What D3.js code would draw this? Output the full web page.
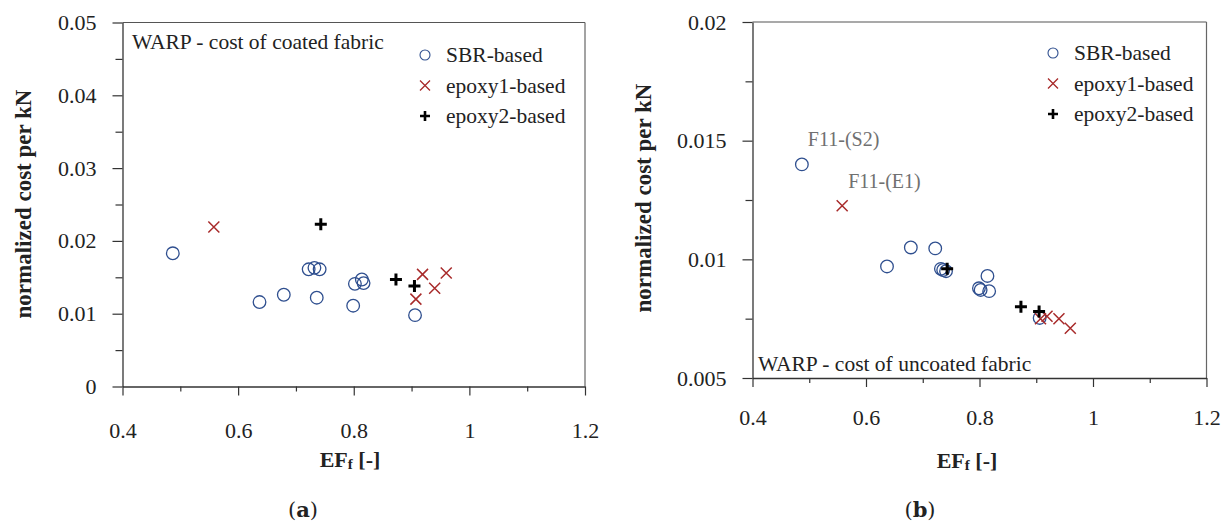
<!DOCTYPE html>
<html>
<head>
<meta charset="utf-8">
<script src="https://cdn.jsdelivr.net/npm/d3@7"></script>
<style>
  html, body { margin: 0; padding: 0; background: #fff; }
  svg text { font-family: "Liberation Serif", "Times New Roman", serif; }
</style>
</head>
<body>
<svg id="chart" width="1228" height="522"></svg>
<script>
// ---- data ----
const sbrEF        = [0.487, 0.637, 0.679, 0.722, 0.732, 0.741, 0.736, 0.799, 0.802, 0.814, 0.817, 0.906];
const sbrCoated    = [0.0183, 0.0116, 0.0126, 0.0161, 0.0163, 0.0161, 0.0122, 0.0111, 0.0141, 0.0147, 0.0142, 0.0098];
const sbrUncoated  = [0.0140, 0.0097, 0.0105, 0.01046, 0.0096, 0.0095, 0.00955, 0.00878, 0.00871, 0.0093, 0.00866, 0.00753];

const ep1EF        = [0.558, 0.9075, 0.919, 0.940, 0.960];
const ep1Coated    = [0.0219, 0.0120, 0.0154, 0.0135, 0.0156];
const ep1Uncoated  = [0.01226, 0.0075, 0.0076, 0.0075, 0.0071];

const ep2EF        = [0.743, 0.873, 0.905];
const ep2Coated    = [0.0223, 0.0147, 0.0138];
const ep2Uncoated  = [0.0096, 0.0080, 0.0078];

const xTicks       = [0.4, 0.6, 0.8, 1.0, 1.2];
const xMinor       = [0.5, 0.7, 0.9, 1.1];
const yTicksA      = [0, 0.01, 0.02, 0.03, 0.04, 0.05];
const yMinorA      = [0.005, 0.015, 0.025, 0.035, 0.045];
const yTicksB      = [0.005, 0.01, 0.015, 0.02];
const yMinorB      = [0.0075, 0.0125, 0.0175];
const seriesNames  = ["SBR-based", "epoxy1-based", "epoxy2-based"];
const annotations  = [{ label: "F11-(S2)", series: 0, index: 0 }, { label: "F11-(E1)", series: 1, index: 0 }];

const COL_SBR = "#2f4f8f", COL_EP1 = "#a82a2a", COL_EP2 = "#000";

const svg = d3.select("#chart");

function fmt(v) { return String(+v.toFixed(4)).replace(/^0\.0+$/, "0"); }

function panel(cfg) {
  const g = svg.append("g");
  const x = d3.scaleLinear().domain([0.4, 1.2]).range([cfg.left, cfg.right]);
  const y = d3.scaleLinear().domain(cfg.yDomain).range([cfg.bottom, cfg.top]);

  // frame top/right
  g.append("line").attr("x1", cfg.left).attr("x2", cfg.right).attr("y1", cfg.top).attr("y2", cfg.top)
    .attr("stroke", "#555").attr("stroke-width", 1.2);
  g.append("line").attr("x1", cfg.right).attr("x2", cfg.right).attr("y1", cfg.top).attr("y2", cfg.bottom)
    .attr("stroke", "#666").attr("stroke-width", 1.2);

  // x axis
  g.append("g").attr("transform", `translate(0,${cfg.bottom})`)
    .call(d3.axisBottom(x).tickValues(xTicks).tickSize(9).tickSizeOuter(0).tickPadding(cfg.xPad).tickFormat(d => String(+d.toFixed(1))));
  g.append("g").attr("transform", `translate(0,${cfg.bottom})`)
    .call(d3.axisBottom(x).tickValues(xMinor).tickSize(5).tickSizeOuter(0).tickFormat(""))
    .select(".domain").remove();

  // y axis
  g.append("g").attr("transform", `translate(${cfg.left},0)`)
    .call(d3.axisLeft(y).tickValues(cfg.yTicks).tickSize(10).tickSizeOuter(0).tickPadding(16).tickFormat(fmt));
  g.append("g").attr("transform", `translate(${cfg.left},0)`)
    .call(d3.axisLeft(y).tickValues(cfg.yMinor).tickSize(7).tickSizeOuter(0).tickFormat(""))
    .select(".domain").remove();

  g.selectAll(".domain").attr("stroke", "#333").attr("stroke-width", 1.3);
  g.selectAll(".tick line").attr("stroke", "#333").attr("stroke-width", 1.2);
  g.selectAll(".tick text").attr("font-size", 22).attr("fill", "#222");

  // axis titles
  const xt = g.append("text").attr("x", cfg.xTitleX).attr("y", cfg.xTitleY)
    .attr("text-anchor", "middle").attr("font-weight", "bold").attr("font-size", 22).attr("fill", "#222");
  xt.append("tspan").text("EF");
  xt.append("tspan").attr("font-size", 15).attr("dy", 2).text("f");
  xt.append("tspan").attr("dy", -2).text(" [-]");

  g.append("text").attr("transform", `translate(${cfg.yTitleX},${cfg.yTitleY}) rotate(-90)`)
    .attr("text-anchor", "middle").attr("dominant-baseline", "central")
    .attr("font-weight", "bold").attr("font-size", 23).attr("fill", "#222")
    .text("normalized cost per kN");

  // panel caption (a)/(b)
  const cap = g.append("text").attr("x", cfg.capX).attr("y", 517).attr("text-anchor", "middle")
    .attr("font-size", 21).attr("fill", "#222").style("font-family", "DejaVu Serif, serif");
  cap.append("tspan").text("(");
  cap.append("tspan").attr("font-weight", "bold").text(cfg.cap);
  cap.append("tspan").text(")");

  // inner title
  g.append("text").attr("x", cfg.titleX).attr("y", cfg.titleY).attr("font-size", 21.5).attr("fill", "#222")
    .text(cfg.title);

  // markers
  const sbr = sbrEF.map((v, i) => ({ x: v, y: cfg.sbr[i] }));
  const e1 = ep1EF.map((v, i) => ({ x: v, y: cfg.ep1[i] }));
  const e2 = ep2EF.map((v, i) => ({ x: v, y: cfg.ep2[i] }));

  g.append("g").selectAll("circle").data(sbr).join("circle")
    .attr("cx", d => x(d.x)).attr("cy", d => y(d.y)).attr("r", 6.3)
    .attr("fill", "none").attr("stroke", COL_SBR).attr("stroke-width", 1.3);

  const s1 = 5.5;
  g.append("g").selectAll("path").data(e1).join("path")
    .attr("d", d => { const cx = x(d.x), cy = y(d.y); return `M${cx - s1},${cy - s1}L${cx + s1},${cy + s1}M${cx - s1},${cy + s1}L${cx + s1},${cy - s1}`; })
    .attr("stroke", COL_EP1).attr("stroke-width", 1.5).attr("fill", "none");

  const s2 = 6;
  g.append("g").selectAll("path").data(e2).join("path")
    .attr("d", d => { const cx = x(d.x), cy = y(d.y); return `M${cx - s2},${cy}L${cx + s2},${cy}M${cx},${cy - s2}L${cx},${cy + s2}`; })
    .attr("stroke", COL_EP2).attr("stroke-width", 3).attr("fill", "none");

  // legend
  const lg = g.append("g");
  const lx = cfg.legX, ly = cfg.legY, dy = 30.5;
  lg.append("circle").attr("cx", lx).attr("cy", ly).attr("r", 5).attr("fill", "none").attr("stroke", COL_SBR).attr("stroke-width", 1.1);
  const k = 5;
  lg.append("path").attr("d", `M${lx - k},${ly + dy - k}L${lx + k},${ly + dy + k}M${lx - k},${ly + dy + k}L${lx + k},${ly + dy - k}`)
    .attr("stroke", COL_EP1).attr("stroke-width", 1.3);
  lg.append("path").attr("d", `M${lx - 5},${ly + 2 * dy}L${lx + 5},${ly + 2 * dy}M${lx},${ly + 2 * dy - 5}L${lx},${ly + 2 * dy + 5}`)
    .attr("stroke", COL_EP2).attr("stroke-width", 2.6);
  seriesNames.forEach((n, i) => {
    lg.append("text").attr("x", lx + 21).attr("y", ly + i * dy).attr("dominant-baseline", "central")
      .attr("font-size", 21.5).attr("fill", "#222").text(n);
  });

  // annotations
  if (cfg.annotate) {
    const sets = [sbr, e1, e2];
    annotations.forEach(a => {
      const p = sets[a.series][a.index];
      g.append("text").attr("x", x(p.x) + 6).attr("y", y(p.y) - 18)
        .attr("font-size", 20).attr("fill", "#707070").text(a.label);
    });
  }
}

panel({
  left: 122.5, right: 585, top: 22.5, bottom: 386.5,
  yDomain: [0, 0.05], yTicks: yTicksA, yMinor: yMinorA,
  sbr: sbrCoated, ep1: ep1Coated, ep2: ep2Coated,
  xPad: 27, xTitleX: 350, xTitleY: 467, yTitleX: 23, yTitleY: 204,
  cap: "a", capX: 303, title: "WARP - cost of coated fabric", titleX: 132, titleY: 49,
  legX: 425, legY: 55, annotate: false
});

panel({
  left: 752.5, right: 1206.5, top: 22, bottom: 378,
  yDomain: [0.005, 0.02], yTicks: yTicksB, yMinor: yMinorB,
  sbr: sbrUncoated, ep1: ep1Uncoated, ep2: ep2Uncoated,
  xPad: 22, xTitleX: 967, xTitleY: 468, yTitleX: 643, yTitleY: 198,
  cap: "b", capX: 920, title: "WARP - cost of uncoated fabric", titleX: 758, titleY: 371,
  legX: 1053, legY: 53, annotate: true
});
</script>
</body>
</html>
